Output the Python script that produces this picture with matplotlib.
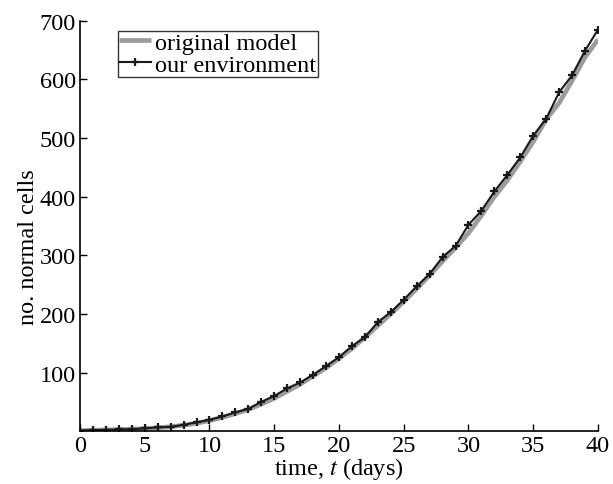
import matplotlib

matplotlib.use("Agg")
import matplotlib.pyplot as plt
import numpy as np

plt.rcParams["font.family"] = ["Liberation Serif", "DejaVu Serif"]
plt.rcParams["mathtext.fontset"] = "stix"

# time in days, one sample per day
days = np.arange(0, 41)

# normal cell counts from the original model (smooth reference curve)
original_model = [
    1, 1.5, 2, 2.6, 3.3, 4.3, 5.7, 7.5, 10, 13.5,
    18, 23.5, 30, 37, 46, 56, 68, 80, 94, 108,
    124, 141, 160, 180, 200, 221, 243, 266, 290, 313,
    338, 368, 400, 428, 460, 494, 532, 560, 598, 638,
    668,
]

# normal cell counts from our environment
our_environment = [
    1, 1.7, 2.2, 2.9, 3.4, 4.6, 6.3, 7.3, 10.8, 14.9,
    19.3, 25, 32, 38, 50, 60, 73, 83, 96, 111,
    126, 145, 160, 186, 203, 224, 247, 268, 297, 316,
    352, 376, 409, 437, 467, 504, 533, 578, 607, 649,
    685,
]

x_ticks = [0, 5, 10, 15, 20, 25, 30, 35, 40]
y_ticks = [100, 200, 300, 400, 500, 600, 700]

FS = 17.5

fig = plt.figure(figsize=(6.13, 4.85), dpi=100, facecolor="white")
ax = fig.add_axes([0.1305, 0.109, 0.845, 0.846])

ax.plot(days, original_model, color="#9c9c9c", linewidth=3.4, label="original model",
        solid_capstyle="butt")
ax.plot(days, our_environment, color="#1a1a1a", linewidth=1.5, marker="+",
        markersize=6, markeredgewidth=1.6, label="our environment")

ax.set_xlim(0, 40)
ax.set_ylim(0, 700)
ax.set_xticks(x_ticks)
ax.set_yticks(y_ticks)
ax.tick_params(direction="in", length=5, width=1, labelsize=FS, pad=3)

for side in ("top", "right"):
    ax.spines[side].set_visible(False)
for side in ("left", "bottom"):
    ax.spines[side].set_linewidth(1.2)

ax.set_xlabel(r"time, $t$ (days)", fontsize=FS, labelpad=-1)
ax.set_ylabel("no. normal cells", fontsize=FS)
ax.yaxis.set_label_coords(-0.079, 0.45)

leg = ax.legend(loc="upper left", bbox_to_anchor=(0.073, 0.976), fontsize=FS,
                frameon=True, fancybox=False, handlelength=1.3, handletextpad=0.2,
                borderpad=0.05, labelspacing=0.0, borderaxespad=0)
leg.get_frame().set_edgecolor("black")
leg.get_frame().set_linewidth(1.0)

plt.savefig("out.png", dpi=100, facecolor="white")
plt.close()
